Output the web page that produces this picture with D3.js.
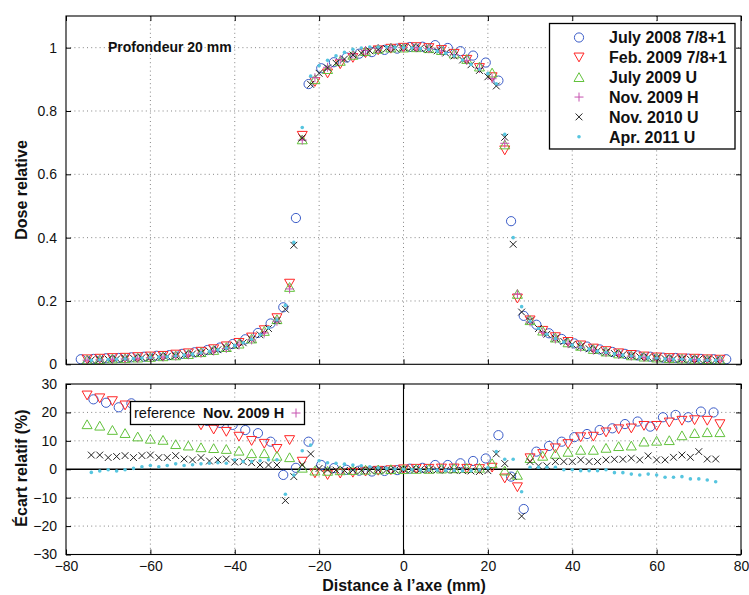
<!DOCTYPE html>
<html><head><meta charset="utf-8">
<script src="https://cdn.jsdelivr.net/npm/d3@7"></script>
<style>
body{margin:0;background:#fff}
svg{display:block}
text{font-family:"Liberation Sans",Arial,Helvetica,sans-serif}
</style>
</head><body>
<svg id="c" width="749" height="595"></svg>
<script>
// ---------- DATA ----------
const seriesNames = ["July 2008 7/8+1","Feb. 2009 7/8+1","July 2009 U","Nov. 2009 H","Nov. 2010 U","Apr. 2011 U"];
const xTicks = [-80,-60,-40,-20,0,20,40,60,80];
const doseTicks = [0,0.2,0.4,0.6,0.8,1];
const devTicks = [-30,-20,-10,0,10,20,30];

// positions (mm)
const xCirc = [-76.5,-73.5,-70.5,-67.5,-64.5,-61.5,-58.5,-55.5,-52.5,-49.5,-46.5,-43.5,-40.5,-37.5,-34.5,-31.5,-28.5,-25.5,-22.5,-19.5,-16.5,-13.5,-10.5,-7.5,-4.5,-1.5,1.5,4.5,7.5,10.5,13.5,16.5,19.5,22.5,25.5,28.5,31.5,34.5,37.5,40.5,43.5,46.5,49.5,52.5,55.5,58.5,61.5,64.5,67.5,70.5,73.5,76.5];
const xCircDev = [-73.5,-70.5,-67.5,-64.5,-61.5,-58.5,-55.5,-52.5,-49.5,-46.5,-43.5,-40.5,-37.5,-34.5,-31.5,-28.5,-25.5,-22.5,-19.5,-16.5,-13.5,-10.5,-7.5,-4.5,-1.5,1.5,4.5,7.5,10.5,13.5,16.5,19.5,22.5,25.5,28.5,31.5,34.5,37.5,40.5,43.5,46.5,49.5,52.5,55.5,58.5,61.5,64.5,67.5,70.5,73.5];
const xStep3 = [-75,-72,-69,-66,-63,-60,-57,-54,-51,-48,-45,-42,-39,-36,-33,-30,-27,-24,-21,-18,-15,-12,-9,-6,-3,0,3,6,9,12,15,18,21,24,27,30,33,36,39,42,45,48,51,54,57,60,63,66,69,72,75];
const xStep2 = [-74,-72,-70,-68,-66,-64,-62,-60,-58,-56,-54,-52,-50,-48,-46,-44,-42,-40,-38,-36,-34,-32,-30,-28,-26,-24,-22,-20,-18,-16,-14,-12,-10,-8,-6,-4,-2,0,2,4,6,8,10,12,14,16,18,20,22,24,26,28,30,32,34,36,38,40,42,44,46,48,50,52,54,56,58,60,62,64,66,68,70,72,74];

// relative dose (top panel)
const doseJul2008 = [.016,.017,.019,.020,.022,.024,.027,.029,.033,.038,.045,.053,.064,.079,.099,.129,.180,.462,.885,.935,.954,.969,.981,.986,.993,.997,1.002,1.003,1.008,.999,.989,.975,.953,.896,.452,.153,.125,.098,.080,.066,.056,.047,.039,.033,.028,.024,.021,.020,.018,.017,.016,.016];
const doseFeb2009 = [.016,.018,.020,.021,.023,.025,.027,.031,.035,.040,.048,.057,.068,.085,.108,.146,.255,.722,.892,.919,.948,.968,.983,.992,.997,1.000,1.002,.999,.993,.981,.962,.936,.907,.676,.208,.139,.106,.086,.071,.060,.050,.042,.035,.030,.025,.022,.020,.019,.018,.016,.015];
const doseJul2009 = [.015,.016,.018,.019,.021,.023,.025,.028,.032,.038,.045,.054,.065,.081,.105,.142,.244,.710,.900,.932,.958,.977,.989,.996,1.000,1.000,1.001,.998,.992,.981,.964,.940,.921,.694,.222,.139,.106,.084,.069,.058,.048,.040,.034,.028,.024,.021,.019,.018,.017,.016,.015];
const doseNov2009 = [.013,.014,.016,.017,.019,.021,.023,.026,.030,.035,.042,.050,.061,.077,.099,.136,.238,.708,.905,.938,.962,.980,.991,.997,1.000,1.000,1.000,.997,.990,.978,.960,.935,.902,.698,.222,.134,.101,.080,.065,.054,.045,.037,.031,.026,.022,.019,.017,.016,.015,.014,.013];
const doseNov2010 = [.014,.015,.016,.017,.018,.019,.021,.022,.023,.025,.027,.030,.033,.036,.041,.046,.052,.059,.068,.079,.093,.113,.138,.174,.376,.715,.884,.919,.936,.951,.964,.977,.983,.990,.994,.997,.998,1.000,1.000,.998,.995,.990,.983,.974,.961,.946,.928,.908,.879,.717,.379,.165,.138,.113,.095,.082,.072,.063,.056,.049,.043,.038,.034,.030,.027,.024,.022,.020,.018,.017,.017,.016,.016,.015,.014];
const doseApr2011 = [.013,.014,.015,.016,.017,.018,.020,.021,.023,.024,.026,.029,.032,.036,.041,.046,.051,.059,.068,.079,.094,.115,.140,.186,.385,.748,.910,.943,.960,.974,.985,.995,.999,1.002,1.002,1.002,1.001,1.000,.999,.997,.994,.989,.982,.974,.961,.947,.932,.918,.886,.726,.400,.182,.135,.113,.095,.081,.070,.061,.054,.048,.042,.037,.033,.029,.026,.023,.021,.019,.017,.016,.016,.015,.014,.013,.013];

// relative deviation (%) vs Nov. 2009 H (bottom panel)
const devJul2008 = [24.6,23.4,21.8,23.2,21.5,20.5,19.5,18.5,17.5,17,16.3,15.6,13.8,12.7,9.7,-2,0.5,9.7,1.5,0.4,-0.2,-0.5,-0.8,-0.6,-0.3,0.2,0.5,1.5,1.5,2.1,2.9,3.8,12,-2.6,-14,6.2,8.2,9.7,11.3,12.4,13.8,14.4,15.9,16.8,15,18.3,19.1,18.3,20.3,20];
const devFeb2009 = [26,25,24,22.5,21.5,20.5,19.5,18.5,17.3,15.5,14,13.2,11.5,10,9,7.2,10.3,2.7,-1.4,-2,-1.5,-1.2,-0.8,-0.5,-0.3,0,0.2,0.2,0.3,0.3,0.2,0.1,0.6,-3.2,-6.3,3.9,5.4,7.4,8.9,11.3,11.5,13,14.1,14.4,15.3,15.3,16.5,17.1,17.3,17.1,15.9];
const devJul2009 = [15.8,15.3,13.8,12.7,11.5,10.7,10.3,8.8,8.3,7.7,7.4,7.1,6.5,5.6,5.6,4.7,4.2,0.5,-0.5,-0.6,-0.4,-0.3,-0.2,-0.1,0,0,0.1,0.1,0.2,0.3,0.4,0.5,2.1,-0.5,-2,3.9,4.7,5.4,6.1,6.8,6.8,7.5,8.1,8.3,9.7,10,10.2,11.9,12.7,13,13];
const devNov2010 = [5.0,5.0,4.1,4.5,4.8,4.1,4.8,5.0,4.1,4.1,4.8,3.6,3.3,4.1,2.9,3.3,3.6,2.5,2.7,2.3,1.5,1.5,1.5,-11,-2.6,1.5,5.4,0.3,-0.2,-0.3,-0.4,-0.3,-0.4,-0.3,-0.3,-0.2,-0.2,0,0,-0.1,-0.2,-0.2,-0.3,-0.4,-0.5,-0.6,-0.8,-0.5,5.4,2.0,-2.5,-16.5,2.7,1.2,1.2,2.7,2.7,2.7,3.3,2.7,2.7,3.3,3.5,3.5,3.9,3.3,4.7,3.3,3.3,4.2,5.0,4.2,6.2,3.6,3.6];
const devApr2011 = [-1.1,-0.6,-0.2,-0.6,-0.2,0.3,0.9,1.3,0.9,1.3,1.9,1.3,1.6,1.9,2.1,2.3,2.1,3.3,2.7,2.7,3.0,3.3,3.3,-8.8,-2,6.5,8.5,3.0,2.3,2.1,1.8,1.5,1.2,0.9,0.5,0.3,0.1,0,-0.1,-0.2,-0.3,-0.3,-0.4,-0.4,-0.5,-0.5,-0.3,0.5,6.2,3.5,3.5,-7.9,0.7,0.7,0.7,0.7,-0.2,-0.2,-0.5,-0.5,-0.5,-0.2,-1.2,-1.2,-1.7,-2,-1.7,-2,-2.8,-2.8,-2.6,-3.4,-3.4,-3.8,-4.4];

// ---------- STYLE ----------
const C = {blue:"#3b5cc8", red:"#ff2424", green:"#62c23c", mag:"#c653b0", black:"#222", cyan:"#56c5df"};
const markerTypes = ["circle","triDown","triUp","plus","cross","dot"];
const markerColors = [C.blue,C.red,C.green,C.mag,C.black,C.cyan];

const svg = d3.select("#c");
const L = 66, R = 741;
const x = d3.scaleLinear().domain([-80,80]).range([L,R]);
const yTop = d3.scaleLinear().domain([0,1.1]).range([364.3,16]);
const yBot = d3.scaleLinear().domain([-30,30]).range([554.5,384]);

function markerPath(type, cx, cy){
  switch(type){
    case "triDown": return `M${cx-5},${cy-4.3}L${cx+5},${cy-4.3}L${cx},${cy+4.5}Z`;
    case "triUp": return `M${cx-5},${cy+4.3}L${cx+5},${cy+4.3}L${cx},${cy-4.5}Z`;
    case "plus": return `M${cx-4.5},${cy}L${cx+4.5},${cy}M${cx},${cy-4.5}L${cx},${cy+4.5}`;
    case "cross": return `M${cx-3.4},${cy-3.4}L${cx+3.4},${cy+3.4}M${cx-3.4},${cy+3.4}L${cx+3.4},${cy-3.4}`;
  }
}
function drawSeries(g, xs, ys, yScale, type, color){
  const pts = xs.map((v,i)=>({x:v,y:ys[i]}));
  if(type==="circle"){
    g.append("g").selectAll("circle").data(pts).join("circle")
      .attr("cx",d=>x(d.x)).attr("cy",d=>yScale(d.y)).attr("r",4.6)
      .attr("fill","none").attr("stroke",color).attr("stroke-width",1);
  } else if(type==="dot"){
    g.append("g").selectAll("circle").data(pts).join("circle")
      .attr("cx",d=>x(d.x)).attr("cy",d=>yScale(d.y)).attr("r",1.8)
      .attr("fill",color);
  } else {
    g.append("g").selectAll("path").data(pts).join("path")
      .attr("d",d=>markerPath(type,x(d.x),yScale(d.y)))
      .attr("fill","none").attr("stroke",color).attr("stroke-width",1);
  }
}
function drawMarker(g, type, cx, cy, color){
  if(type==="circle") g.append("circle").attr("cx",cx).attr("cy",cy).attr("r",4.6).attr("fill","none").attr("stroke",color);
  else if(type==="dot") g.append("circle").attr("cx",cx).attr("cy",cy).attr("r",1.8).attr("fill",color);
  else g.append("path").attr("d",markerPath(type,cx,cy)).attr("fill","none").attr("stroke",color);
}

function panel(yScale, gridY){
  const g = svg.append("g");
  const [y0,y1] = yScale.range();
  const grid = g.append("g").attr("stroke","#777").attr("stroke-width",0.9).attr("stroke-dasharray","1,3.2");
  grid.selectAll("line.gx").data(xTicks.filter(t=>t>-80&&t<80)).join("line")
    .attr("x1",d=>x(d)).attr("x2",d=>x(d)).attr("y1",y1).attr("y2",y0);
  grid.selectAll("line.gy").data(gridY).join("line")
    .attr("y1",d=>yScale(d)).attr("y2",d=>yScale(d)).attr("x1",L).attr("x2",R);
  return g;
}

// ---------- TOP PANEL ----------
const gTop = panel(yTop, doseTicks.filter(t=>t>0));
const topData = [[xCirc,doseJul2008],[xStep3,doseFeb2009],[xStep3,doseJul2009],[xStep3,doseNov2009],[xStep2,doseNov2010],[xStep2,doseApr2011]];
topData.forEach((d,i)=>drawSeries(gTop,d[0],d[1],yTop,markerTypes[i],markerColors[i]));

// ---------- BOTTOM PANEL ----------
const gBot = panel(yBot, devTicks.filter(t=>t>-30&&t<30&&t!==0));
gBot.append("line").attr("x1",L).attr("x2",R).attr("y1",yBot(0)).attr("y2",yBot(0)).attr("stroke","#000").attr("stroke-width",1.6);
gBot.append("line").attr("x1",x(0)).attr("x2",x(0)).attr("y1",yBot(30)).attr("y2",yBot(-30)).attr("stroke","#000").attr("stroke-width",1.1);
const botData = [[xCircDev,devJul2008,0],[xStep3,devFeb2009,1],[xStep3,devJul2009,2],[xStep2,devNov2010,4],[xStep2,devApr2011,5]];
botData.forEach(d=>drawSeries(gBot,d[0],d[1],yBot,markerTypes[d[2]],markerColors[d[2]]));

// ---------- AXES / FRAMES ----------
function axes(yScale, yTicksV, fmt, showX){
  const [y0,y1] = yScale.range();
  const ax = svg.append("g").attr("font-size",14);
  ax.append("g").attr("transform",`translate(${L},0)`)
    .call(d3.axisLeft(yScale).tickValues(yTicksV).tickFormat(fmt).tickSize(-5).tickPadding(9));
  ax.append("g").attr("transform",`translate(${R},0)`)
    .call(d3.axisRight(yScale).tickValues(yTicksV).tickFormat("").tickSize(-5));
  ax.append("g").attr("transform",`translate(0,${y1})`)
    .call(d3.axisTop(x).tickValues(xTicks).tickFormat("").tickSize(-5));
  ax.append("g").attr("transform",`translate(0,${y0})`)
    .call(d3.axisBottom(x).tickValues(xTicks).tickFormat(showX? d3.format("d") : "").tickSize(-5).tickPadding(7));
  ax.selectAll(".domain").remove();
  ax.selectAll("text").attr("font-family","Liberation Sans,Arial,sans-serif").attr("fill","#111").attr("font-size",14);
  ax.selectAll(".tick line").attr("stroke","#000");
  ax.append("rect").attr("x",L).attr("y",y1).attr("width",R-L).attr("height",y0-y1)
    .attr("fill","none").attr("stroke","#000").attr("stroke-width",1.1);
}
axes(yTop, doseTicks, d=>d===0?"0":(d===1?"1":d3.format(".1f")(d)), false);
axes(yBot, devTicks, d3.format("d"), true);

// ---------- LEGEND ----------
const lg = svg.append("g");
lg.append("rect").attr("x",549.5).attr("y",23.5).attr("width",185.5).attr("height",125.5)
  .attr("fill","#fff").attr("stroke","#000").attr("stroke-width",1.3);
seriesNames.forEach((n,i)=>{
  const cy = 37.5 + i*19.85;
  drawMarker(lg, markerTypes[i], 579, cy, markerColors[i]);
  lg.append("text").attr("x",609).attr("y",cy).attr("dy","0.36em")
    .attr("font-size",16).attr("font-weight","bold").attr("fill","#111").text(n);
});

// reference box
const rb = svg.append("g");
rb.append("rect").attr("x",130.5).attr("y",401.5).attr("width",174).attr("height",23)
  .attr("fill","#fff").attr("stroke","#000").attr("stroke-width",1.3);
const rt = rb.append("text").attr("x",134).attr("y",413).attr("dy","0.36em").attr("font-size",14.5).attr("fill","#111");
rt.append("tspan").text("reference");
rt.append("tspan").attr("x",203).attr("font-weight","bold").text("Nov. 2009 H");
drawMarker(rb, "plus", 296, 413, C.mag);

// annotations & titles
svg.append("text").attr("x",108).attr("y",47).attr("dy","0.36em").attr("font-size",14)
  .attr("font-weight","bold").attr("fill","#111").text("Profondeur 20 mm");
svg.append("text").attr("transform",`translate(27,190) rotate(-90)`).attr("text-anchor","middle")
  .attr("font-size",16).attr("font-weight","bold").attr("fill","#111").text("Dose relative");
svg.append("text").attr("transform",`translate(27,468) rotate(-90)`).attr("text-anchor","middle")
  .attr("font-size",16).attr("font-weight","bold").attr("fill","#111").text("Écart relatif (%)");
svg.append("text").attr("x",404).attr("y",591).attr("text-anchor","middle")
  .attr("font-size",16).attr("font-weight","bold").attr("fill","#111").text("Distance à l’axe (mm)");
</script>
</body></html>
